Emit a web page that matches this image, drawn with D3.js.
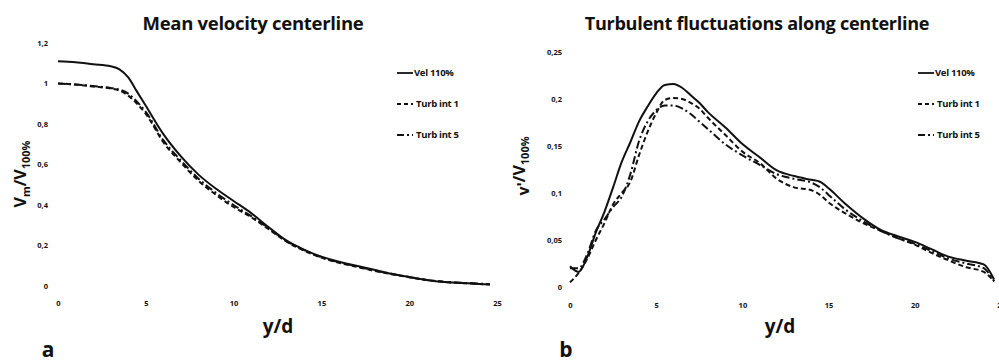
<!DOCTYPE html>
<html><head><meta charset="utf-8">
<script src="https://cdn.jsdelivr.net/npm/d3@7"></script>
<style>
body{margin:0;background:#fff;}
text{font-family:"Open Sans","Liberation Sans",sans-serif;fill:#111;}
</style></head><body>
<svg id="c" width="999" height="363"></svg>
<script>
// ---- data ----
const seriesNames = ["Vel 110%", "Turb int 1", "Turb int 5"];
const meanX = [0,1,2,3,3.5,4,4.5,5,6,7,8,9,10,11,12,13,14,15,16,17,18,19,20,21,22,23,24,24.6];
const meanVel110 = [1.11,1.105,1.095,1.085,1.07,1.03,0.96,0.89,0.75,0.64,0.55,0.48,0.42,0.36,0.29,0.225,0.18,0.145,0.12,0.1,0.08,0.06,0.045,0.03,0.02,0.015,0.01,0.008];
const meanTurb1 = [1.0,0.995,0.985,0.975,0.965,0.94,0.9,0.85,0.71,0.61,0.52,0.45,0.39,0.34,0.28,0.22,0.175,0.14,0.115,0.095,0.075,0.058,0.043,0.03,0.02,0.015,0.01,0.008];
const meanTurb5 = [1.0,0.995,0.988,0.978,0.97,0.95,0.91,0.86,0.72,0.62,0.53,0.46,0.40,0.345,0.285,0.222,0.178,0.142,0.117,0.097,0.077,0.06,0.044,0.03,0.02,0.016,0.012,0.009];

const turbX = [0,0.5,1,1.5,2,2.5,3,3.5,4,4.5,5,5.5,6,6.5,7,7.5,8,9,10,11,12,13,14,14.5,15,16,17,18,19,20,21,22,23,24,24.6];
const turbVel110 = [0.022,0.016,0.032,0.058,0.08,0.106,0.133,0.154,0.176,0.192,0.206,0.215,0.216,0.212,0.204,0.196,0.186,0.17,0.152,0.138,0.124,0.118,0.114,0.112,0.105,0.088,0.073,0.061,0.054,0.048,0.04,0.032,0.028,0.024,0.008];
const turbTurb1 = [0.005,0.015,0.03,0.05,0.068,0.088,0.1,0.112,0.14,0.165,0.185,0.199,0.201,0.2,0.196,0.19,0.18,0.162,0.144,0.132,0.115,0.106,0.103,0.098,0.09,0.078,0.068,0.06,0.052,0.045,0.036,0.028,0.021,0.016,0.006];
const turbTurb5 = [0.02,0.02,0.035,0.06,0.072,0.085,0.096,0.12,0.155,0.176,0.188,0.193,0.193,0.19,0.184,0.176,0.168,0.152,0.14,0.13,0.12,0.115,0.111,0.106,0.098,0.082,0.07,0.06,0.052,0.046,0.038,0.03,0.025,0.02,0.006];

const xTicks = [0,5,10,15,20,25];
const meanYTicks = [0,0.2,0.4,0.6,0.8,1,1.2];
const turbYTicks = [0,0.05,0.1,0.15,0.2,0.25];

// ---- drawing ----
const svg = d3.select("#c");
const dashes = [null, "5,3", "8,3,2,3"];
const fmt = v => String(+v.toFixed(2)).replace(".", ",");

function panel(cfg){
  const x = d3.scaleLinear().domain([0,25]).range(cfg.xr);
  const y = d3.scaleLinear().domain(cfg.yd).range(cfg.yr);
  const g = svg.append("g");
  const xa = g.append("g").attr("transform",`translate(0,${cfg.xAxisY})`)
    .call(d3.axisBottom(x).tickValues(xTicks).tickSize(0).tickPadding(0).tickFormat(d=>d));
  xa.select(".domain").remove();
  xa.selectAll("text").attr("font-size",7.5).attr("font-weight","bold").attr("font-family","Open Sans, sans-serif").attr("fill","#111").attr("dy","0.35em").attr("y",0);
  const ya = g.append("g").attr("transform",`translate(${cfg.yAxisX},0)`)
    .call(d3.axisLeft(y).tickValues(cfg.yTicks).tickSize(0).tickPadding(0).tickFormat(fmt));
  ya.select(".domain").remove();
  ya.selectAll("text").attr("font-size",7.5).attr("font-weight","bold").attr("font-family","Open Sans, sans-serif").attr("fill","#111");
  const line = d3.line().x(d=>x(d[0])).y(d=>y(d[1])).curve(d3.curveMonotoneX);
  cfg.series.forEach((s,i)=>{
    g.append("path").datum(cfg.xs.map((v,k)=>[v,s[k]]))
      .attr("d",line).attr("fill","none").attr("stroke","#111")
      .attr("stroke-width",2).attr("stroke-dasharray",dashes[i]);
  });
  // title, sized to span the reference width
  const t = g.append("text").attr("x",cfg.titleX).attr("y",30).attr("text-anchor","middle")
    .attr("font-size",16).attr("font-weight","bold").attr("letter-spacing","-0.3")
    .text(cfg.title);
  const w = t.node().getComputedTextLength();
  t.attr("font-size", 16*cfg.titleW/w);
  // legend
  seriesNames.forEach((n,i)=>{
    const ly = 73 + i*31;
    g.append("line").attr("x1",cfg.legX).attr("x2",cfg.legX+16).attr("y1",ly).attr("y2",ly)
      .attr("stroke","#111").attr("stroke-width",1.8).attr("stroke-dasharray",i===0?null:(i===1?"4,3":"7,3,2,3"));
    g.append("text").attr("x",cfg.legX+(i===0?17:19)).attr("y",ly).attr("dy","0.35em")
      .attr("font-size",9.5).attr("font-weight","bold").attr("letter-spacing","-0.3").text(n);
  });
  // x label
  g.append("text").attr("x",cfg.xLabX).attr("y",333).attr("text-anchor","middle")
    .attr("font-size",19).attr("font-weight","bold").text("y/d");
  // panel letter
  g.append("text").attr("x",cfg.letX).attr("y",357).attr("text-anchor","middle")
    .attr("font-size",21).attr("font-weight","bold").text(cfg.letter);
  // y label
  const yl = g.append("text").attr("transform",`translate(${cfg.yLabX},${cfg.yLabY}) rotate(-90)`)
    .attr("text-anchor","middle").attr("font-size",16).attr("font-weight","bold");
  yl.append("tspan").text(cfg.yLab[0]);
  yl.append("tspan").attr("font-size",11).attr("dy",4).text(cfg.yLab[1]);
  yl.append("tspan").attr("dy",-4).text(cfg.yLab[2]);
  yl.append("tspan").attr("font-size",11).attr("dy",4).text(cfg.yLab[3]);
}

panel({xr:[58,497], yd:[0,1.2], yr:[286,43], xAxisY:303, yAxisX:48, yTicks:meanYTicks,
  xs:meanX, series:[meanVel110,meanTurb1,meanTurb5], title:"Mean velocity centerline", titleX:253, titleW:220,
  legX:397, xLabX:278, letX:48, letter:"a", yLabX:26, yLabY:174, yLab:["V","m","/V","100%"]});
panel({xr:[570,1001], yd:[0,0.25], yr:[287,52], xAxisY:305, yAxisX:562, yTicks:turbYTicks,
  xs:turbX, series:[turbVel110,turbTurb1,turbTurb5], title:"Turbulent fluctuations along centerline", titleX:757, titleW:343,
  legX:918, xLabX:780, letX:566, letter:"b", yLabX:529, yLabY:166, yLab:["v'","","/V","100%"]});
</script></body></html>
